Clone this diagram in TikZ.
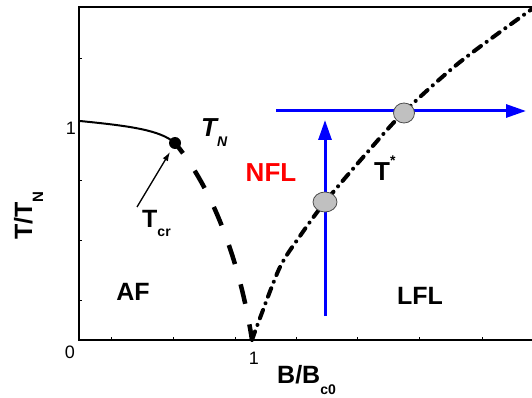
\documentclass[tikz,border=0pt]{standalone}
\usepackage{fontspec}
\setmainfont{Liberation Sans}
\usetikzlibrary{arrows.meta,shapes.geometric}
\definecolor{pblue}{RGB}{0,0,255}
\definecolor{pred}{RGB}{255,0,0}
\definecolor{pgray}{RGB}{192,192,192}
\begin{document}
\begin{tikzpicture}[x=1pt,y=-1pt,
  frame/.style={line width=2pt},
  tick/.style={line width=1pt},
  lab/.style={inner sep=0pt,font=\fontsize{25}{30}\selectfont\bfseries},
  num/.style={inner sep=0pt,font=\fontsize{18}{20}\selectfont},
  bluearrow/.style={pblue,line width=3pt,-{Triangle[length=20pt,width=13pt]}},
  gdot/.style={ellipse,draw=black!70,line width=0.8pt,fill=pgray,inner sep=0pt},
  afline/.style={line width=2pt},
  tnline/.style={line width=4.5pt,dash pattern=on 20pt off 21pt,dash phase=7pt},
  tsline/.style={line width=4pt,line cap=round,dash pattern=on 9pt off 7pt on 0.1pt off 7pt},
]
\useasboundingbox (0,0) rectangle (532,398);
% axes
\coordinate (tl) at (79,7);
\coordinate (tr) at (532,7);
\coordinate (o) at (79,340);
\coordinate (br) at (532,340);
\draw[frame] (tr) -- (tl) -- (o) -- (br);
\foreach \y in {59,121,180,240,300} \draw[tick] (79,\y) -- (82,\y);
\foreach \x in {111,173,235,296,357,419,482} \draw[tick] (\x,340) -- (\x,337);
\node[num] (x0) at (70,352) {0};
\node[num] (x1) at (254,358) {1};
\node[num] (y1) at (71,128) {1};
% axis labels
\node[lab,anchor=base west,rotate=90] (ylab) at (32,240) {T/T\raisebox{-11pt}{\fontsize{15}{15}\selectfont N}};
\node[lab,anchor=base west] (xlab) at (277,383) {B/B\raisebox{-11pt}{\fontsize{14}{14}\selectfont c0}};
% curves
\coordinate (afstart) at (80,121);
\coordinate (qcp) at (252,340);
\node[circle,fill=black,inner sep=0pt,minimum size=12pt] (tcr) at (175,143) {};
\draw[afline] (afstart) .. controls (130,126) and (160,130) .. (tcr.center);
\draw[tnline] (tcr.center) .. controls (218,195) and (242,275) .. (qcp);
\draw[tsline] plot[smooth] coordinates {(252,340) (260,318) (280,267) (300,236) (325,202) (365,155) (403,113) (460,62) (532,9)};
% blue arrows
\coordinate (hstart) at (276,111);
\coordinate (hend) at (526,111);
\coordinate (vstart) at (325,316);
\coordinate (vend) at (325,120);
\draw[bluearrow] (hstart) -- (hend);
\draw[bluearrow] (vstart) -- (vend);
% gray points
\node[gdot,minimum width=24pt,minimum height=20pt] (p1) at (325,202) {};
\node[gdot,minimum width=21pt,minimum height=20pt] (p2) at (404,113) {};
% Tcr arrow
\node[lab,anchor=base west] (tcrlab) at (142,227) {T\raisebox{-9pt}{\fontsize{14}{14}\selectfont cr}};
\coordinate (tcrarr) at (137,207);
\draw[line width=1.3pt,-{Latex[length=9pt,width=6pt]}] (tcrarr) -- (170,152);
% labels
\node[lab,anchor=base west,font=\fontsize{26}{30}\selectfont\bfseries\itshape] (tnlab) at (201,137) {T\raisebox{-10pt}{\fontsize{14}{14}\selectfont N}};
\node[lab,anchor=base west,font=\fontsize{26}{30}\selectfont\bfseries] (tslab) at (374,180) {T\raisebox{14pt}{\fontsize{14}{14}\selectfont *}};
\node[lab,text=pred,font=\fontsize{26}{30}\selectfont\bfseries] (nfl) at (271,173) {NFL};
\node[lab] (af) at (133,292) {AF};
\node[lab] (lfl) at (420,296) {LFL};
\end{tikzpicture}
\end{document}
